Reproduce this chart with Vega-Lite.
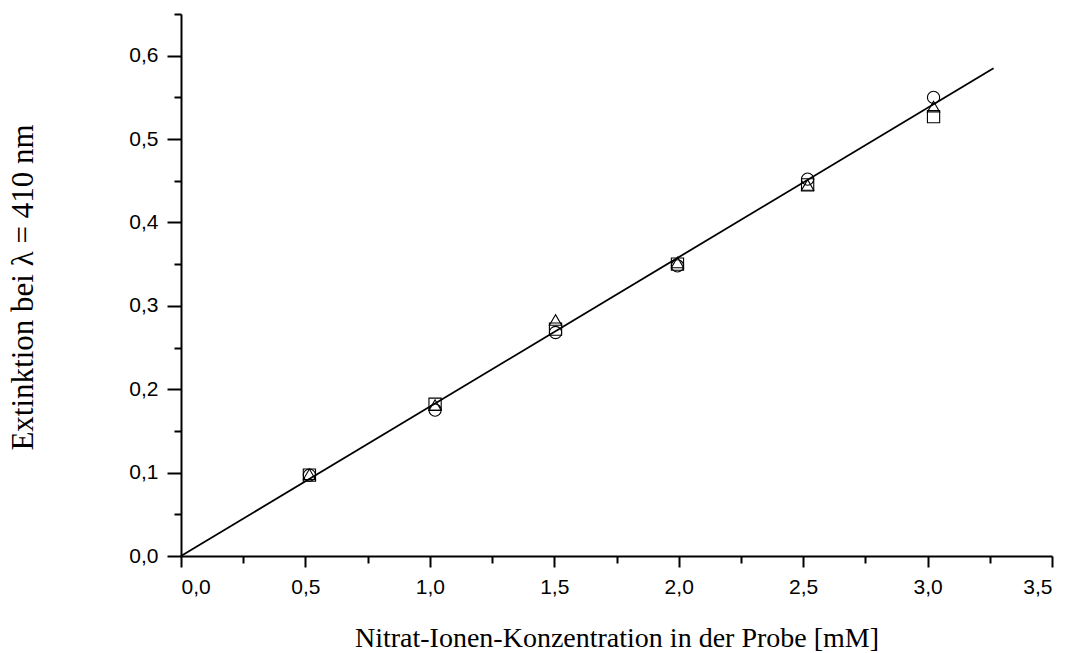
{
  "$schema": "https://vega.github.io/schema/vega-lite/v6.json",
  "width": 871,
  "height": 542,
  "autosize": {"type": "none"},
  "padding": {"left": 181, "top": 14, "right": 18, "bottom": 97},
  "background": "white",
  "config": {
    "view": {"stroke": null},
    "axis": {
      "grid": false,
      "domainColor": "black",
      "domainWidth": 2,
      "tickColor": "black",
      "tickWidth": 2,
      "labelFont": "Liberation Sans",
      "labelFontSize": 21,
      "labelColor": "black",
      "titleFont": "Liberation Serif",
      "titleFontSize": 28,
      "titleFontWeight": "normal",
      "titleColor": "black"
    }
  },
  "datasets": {
    "fit": [
      {"konz": 0.0, "ext": 0.0},
      {"konz": 3.265, "ext": 0.585}
    ],
    "messung": [
      {"reihe": "Reihe 1", "konz": 0.516, "ext": 0.097},
      {"reihe": "Reihe 1", "konz": 1.021, "ext": 0.182},
      {"reihe": "Reihe 1", "konz": 1.505, "ext": 0.272},
      {"reihe": "Reihe 1", "konz": 1.995, "ext": 0.350},
      {"reihe": "Reihe 1", "konz": 2.518, "ext": 0.445},
      {"reihe": "Reihe 1", "konz": 3.024, "ext": 0.527},
      {"reihe": "Reihe 2", "konz": 0.516, "ext": 0.097},
      {"reihe": "Reihe 2", "konz": 1.021, "ext": 0.175},
      {"reihe": "Reihe 2", "konz": 1.505, "ext": 0.268},
      {"reihe": "Reihe 2", "konz": 1.995, "ext": 0.348},
      {"reihe": "Reihe 2", "konz": 2.518, "ext": 0.452},
      {"reihe": "Reihe 2", "konz": 3.024, "ext": 0.550},
      {"reihe": "Reihe 3", "konz": 0.516, "ext": 0.098},
      {"reihe": "Reihe 3", "konz": 1.021, "ext": 0.181},
      {"reihe": "Reihe 3", "konz": 1.505, "ext": 0.283},
      {"reihe": "Reihe 3", "konz": 1.995, "ext": 0.352},
      {"reihe": "Reihe 3", "konz": 2.518, "ext": 0.445},
      {"reihe": "Reihe 3", "konz": 3.024, "ext": 0.539}
    ]
  },
  "layer": [
    {
      "data": {"name": "fit"},
      "mark": {"type": "line", "color": "black", "strokeWidth": 1.8},
      "encoding": {
        "x": {
          "field": "konz", "type": "quantitative",
          "scale": {"domain": [0, 3.5], "nice": false, "zero": false},
          "axis": {
            "orient": "bottom",
            "values": [0.25, 0.75, 1.25, 1.75, 2.25, 2.75, 3.25],
            "labels": false, "domain": false, "tickSize": 7, "title": null
          }
        },
        "y": {
          "field": "ext", "type": "quantitative",
          "scale": {"domain": [0, 0.65], "nice": false, "zero": false},
          "axis": {
            "orient": "left",
            "values": [0.05, 0.15, 0.25, 0.35, 0.45, 0.55, 0.65],
            "labels": false, "domain": false, "tickSize": 7, "title": null
          }
        }
      }
    },
    {
      "data": {"name": "messung"},
      "mark": {"type": "point", "filled": false, "stroke": "black", "strokeWidth": 1.1, "size": 150, "opacity": 1},
      "encoding": {
        "x": {
          "field": "konz", "type": "quantitative",
          "axis": {
            "orient": "bottom",
            "values": [0, 0.5, 1, 1.5, 2, 2.5, 3, 3.5],
            "tickSize": 11,
            "labelPadding": 9,
            "labelExpr": "replace(format(datum.value, '.1f'), '.', ',')",
            "title": "Nitrat-Ionen-Konzentration in der Probe [mM]",
            "titleY": 90,
            "titleBaseline": "alphabetic"
          }
        },
        "y": {
          "field": "ext", "type": "quantitative",
          "axis": {
            "orient": "left",
            "values": [0, 0.1, 0.2, 0.3, 0.4, 0.5, 0.6],
            "tickSize": 14,
            "labelPadding": 9,
            "labelExpr": "replace(format(datum.value, '.1f'), '.', ',')",
            "title": "Extinktion bei λ = 410 nm",
            "titleFontSize": 31,
            "titleAngle": -90,
            "titleX": -149,
            "titleY": 273,
            "titleAlign": "center",
            "titleBaseline": "alphabetic"
          }
        },
        "shape": {
          "field": "reihe", "type": "nominal",
          "scale": {"domain": ["Reihe 1", "Reihe 2", "Reihe 3"], "range": ["square", "circle", "triangle-up"]},
          "legend": null
        }
      }
    }
  ],
  "resolve": {"axis": {"x": "independent", "y": "independent"}}
}
